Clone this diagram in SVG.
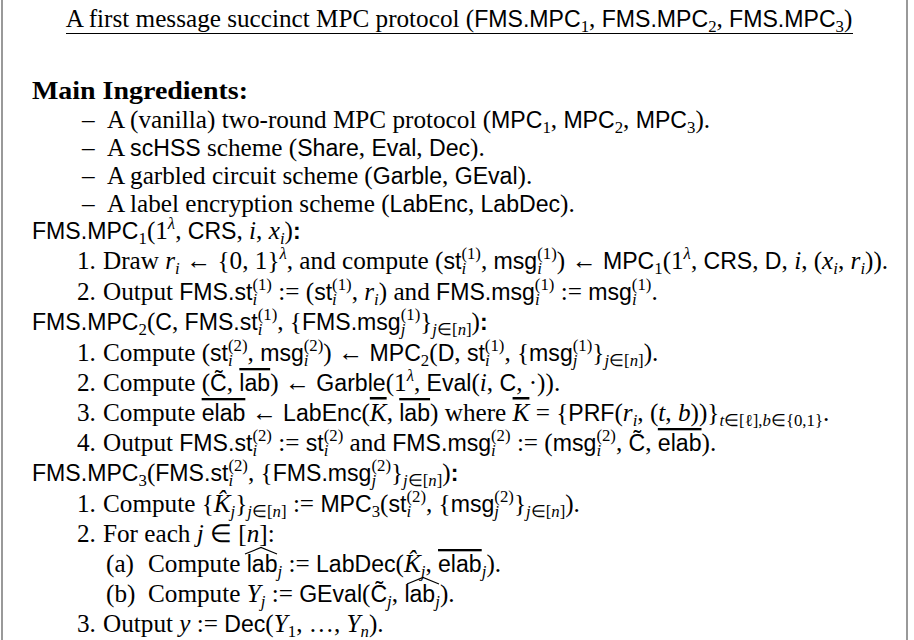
<svg xmlns="http://www.w3.org/2000/svg" width="914" height="640" viewBox="0 0 914 640">
<style>
.t{font-family:"Liberation Serif",serif;font-size:25.2px;fill:#000}
.s{font-family:"Liberation Sans",sans-serif;font-size:23.1px}
.i{font-style:italic}
.lo{font-size:16.8px;baseline-shift:-5.3px}
.hi{font-size:16.8px;baseline-shift:10.5px}
.ov{text-decoration:overline}
.b{font-weight:bold}
.hat{fill:none;stroke:#000;stroke-width:1.2}
</style>
<rect width="914" height="640" fill="#fff"/>
<g id="frame">
<line x1="2" y1="0" x2="2" y2="640" stroke="#777" stroke-width="1.5"/>
<line x1="907" y1="0" x2="907" y2="640" stroke="#777" stroke-width="1.5"/>
</g>
<g id="title">
<text class="t" x="459" y="27" text-anchor="middle">A first message succinct MPC protocol (<tspan class="s">FMS.MPC</tspan><tspan class="lo">1</tspan>, <tspan class="s">FMS.MPC</tspan><tspan class="lo">2</tspan>, <tspan class="s">FMS.MPC</tspan><tspan class="lo">3</tspan>)</text>
<line x1="66" y1="33.5" x2="853" y2="33.5" stroke="#000" stroke-width="1"/>
</g>
<g id="ingredients">
<text class="t b" x="32" y="99" textLength="216" lengthAdjust="spacingAndGlyphs">Main Ingredients:</text>
<text class="t" x="82" y="128">–</text>
<text class="t" x="107" y="128">A (vanilla) two-round MPC protocol (<tspan class="s">MPC</tspan><tspan class="lo">1</tspan>, <tspan class="s">MPC</tspan><tspan class="lo">2</tspan>, <tspan class="s">MPC</tspan><tspan class="lo">3</tspan>).</text>
<text class="t" x="82" y="156">–</text>
<text class="t" x="107" y="156">A <tspan class="s">scHSS</tspan> scheme (<tspan class="s">Share</tspan>, <tspan class="s">Eval</tspan>, <tspan class="s">Dec</tspan>).</text>
<text class="t" x="82" y="184">–</text>
<text class="t" x="107" y="184">A garbled circuit scheme (<tspan class="s">Garble</tspan>, <tspan class="s">GEval</tspan>).</text>
<text class="t" x="82" y="212">–</text>
<text class="t" x="107" y="212">A label encryption scheme (<tspan class="s">LabEnc</tspan>, <tspan class="s">LabDec</tspan>).</text>
</g>
<g id="round1">
<text class="t" x="32" y="239"><tspan class="s">FMS.MPC</tspan><tspan class="lo">1</tspan>(1<tspan class="hi i">λ</tspan>, <tspan class="s">CRS</tspan>, <tspan class="i">i</tspan>, <tspan class="i">x</tspan><tspan class="lo i">i</tspan>)<tspan class="s b">:</tspan></text>
<text class="t" x="77" y="269">1.</text>
<text class="t" x="103" y="269">Draw <tspan class="i">r</tspan><tspan class="lo i">i</tspan> ← {0, 1}<tspan class="hi i">λ</tspan>, and compute (<tspan class="s">st</tspan><tspan class="lo i">i</tspan><tspan class="hi" dx="-4.7">(1)</tspan>, <tspan class="s">msg</tspan><tspan class="lo i">i</tspan><tspan class="hi" dx="-4.7">(1)</tspan>) ← <tspan class="s">MPC</tspan><tspan class="lo">1</tspan>(1<tspan class="hi i">λ</tspan>, <tspan class="s">CRS</tspan>, <tspan class="s">D</tspan>, <tspan class="i">i</tspan>, (<tspan class="i">x</tspan><tspan class="lo i">i</tspan>, <tspan class="i">r</tspan><tspan class="lo i">i</tspan>)).</text>
<text class="t" x="77" y="300">2.</text>
<text class="t" x="103" y="300">Output <tspan class="s">FMS.st</tspan><tspan class="lo i">i</tspan><tspan class="hi" dx="-4.7">(1)</tspan> := (<tspan class="s">st</tspan><tspan class="lo i">i</tspan><tspan class="hi" dx="-4.7">(1)</tspan>, <tspan class="i">r</tspan><tspan class="lo i">i</tspan>) and <tspan class="s">FMS.msg</tspan><tspan class="lo i">i</tspan><tspan class="hi" dx="-4.7">(1)</tspan> := <tspan class="s">msg</tspan><tspan class="lo i">i</tspan><tspan class="hi" dx="-4.7">(1)</tspan>.</text>
</g>
<g id="round2">
<text class="t" x="32" y="330"><tspan class="s">FMS.MPC</tspan><tspan class="lo">2</tspan>(<tspan class="s">C</tspan>, <tspan class="s">FMS.st</tspan><tspan class="lo i">i</tspan><tspan class="hi" dx="-4.7">(1)</tspan>, {<tspan class="s">FMS.msg</tspan><tspan class="lo i">j</tspan><tspan class="hi" dx="-4.7">(1)</tspan>}<tspan class="lo"><tspan class="i">j</tspan>∈[<tspan class="i">n</tspan>]</tspan>)<tspan class="s b">:</tspan></text>
<text class="t" x="77" y="361">1.</text>
<text class="t" x="103" y="361">Compute (<tspan class="s">st</tspan><tspan class="lo i">i</tspan><tspan class="hi" dx="-4.7">(2)</tspan>, <tspan class="s">msg</tspan><tspan class="lo i">i</tspan><tspan class="hi" dx="-4.7">(2)</tspan>) ← <tspan class="s">MPC</tspan><tspan class="lo">2</tspan>(<tspan class="s">D</tspan>, <tspan class="s">st</tspan><tspan class="lo i">i</tspan><tspan class="hi" dx="-4.7">(1)</tspan>, {<tspan class="s">msg</tspan><tspan class="lo i">j</tspan><tspan class="hi" dx="-4.7">(1)</tspan>}<tspan class="lo"><tspan class="i">j</tspan>∈[<tspan class="i">n</tspan>]</tspan>).</text>
<text class="t" x="77" y="391">2.</text>
<text class="t" x="103" y="391">Compute (<tspan class="s">C̃</tspan>, <tspan class="s ov">lab</tspan>) ← <tspan class="s">Garble</tspan>(1<tspan class="hi i">λ</tspan>, <tspan class="s">Eval</tspan>(<tspan class="i">i</tspan>, <tspan class="s">C</tspan>, ·)).</text>
<text class="t" x="77" y="421">3.</text>
<text class="t" x="103" y="421">Compute <tspan class="s ov">elab</tspan> ← <tspan class="s">LabEnc</tspan>(<tspan class="i ov">K</tspan>, <tspan class="s ov">lab</tspan>) where <tspan class="i ov">K</tspan> = {<tspan class="s">PRF</tspan>(<tspan class="i">r</tspan><tspan class="lo i">i</tspan>, (<tspan class="i">t</tspan>, <tspan class="i">b</tspan>))}<tspan class="lo"><tspan class="i">t</tspan>∈[ℓ],<tspan class="i">b</tspan>∈{0,1}</tspan>.</text>
<text class="t" x="77" y="451">4.</text>
<text class="t" x="103" y="451">Output <tspan class="s">FMS.st</tspan><tspan class="lo i">i</tspan><tspan class="hi" dx="-4.7">(2)</tspan> := <tspan class="s">st</tspan><tspan class="lo i">i</tspan><tspan class="hi" dx="-4.7">(2)</tspan> and <tspan class="s">FMS.msg</tspan><tspan class="lo i">i</tspan><tspan class="hi" dx="-4.7">(2)</tspan> := (<tspan class="s">msg</tspan><tspan class="lo i">i</tspan><tspan class="hi" dx="-4.7">(2)</tspan>, <tspan class="s">C̃</tspan>, <tspan class="s ov">elab</tspan>).</text>
</g>
<g id="round3">
<text class="t" x="32" y="481"><tspan class="s">FMS.MPC</tspan><tspan class="lo">3</tspan>(<tspan class="s">FMS.st</tspan><tspan class="lo i">i</tspan><tspan class="hi" dx="-4.7">(2)</tspan>, {<tspan class="s">FMS.msg</tspan><tspan class="lo i">j</tspan><tspan class="hi" dx="-4.7">(2)</tspan>}<tspan class="lo"><tspan class="i">j</tspan>∈[<tspan class="i">n</tspan>]</tspan>)<tspan class="s b">:</tspan></text>
<text class="t" x="77" y="512">1.</text>
<text class="t" x="103" y="512">Compute {<tspan class="i">K̂</tspan><tspan class="lo i">j</tspan>}<tspan class="lo"><tspan class="i">j</tspan>∈[<tspan class="i">n</tspan>]</tspan> := <tspan class="s">MPC</tspan><tspan class="lo">3</tspan>(<tspan class="s">st</tspan><tspan class="lo i">i</tspan><tspan class="hi" dx="-4.7">(2)</tspan>, {<tspan class="s">msg</tspan><tspan class="lo i">j</tspan><tspan class="hi" dx="-4.7">(2)</tspan>}<tspan class="lo"><tspan class="i">j</tspan>∈[<tspan class="i">n</tspan>]</tspan>).</text>
<text class="t" x="77" y="542">2.</text>
<text class="t" x="103" y="542">For each <tspan class="i">j</tspan> ∈ [<tspan class="i">n</tspan>]:</text>
<text class="t" x="106" y="572">(a)</text>
<text class="t" x="148" y="572">Compute <tspan class="s">lab</tspan><tspan class="lo i">j</tspan> := <tspan class="s">LabDec</tspan>(<tspan class="i">K̂</tspan><tspan class="lo i">j</tspan>, <tspan class="s ov">elab</tspan><tspan class="lo i">j</tspan>).</text>
<text class="t" x="106" y="602">(b)</text>
<text class="t" x="148" y="602">Compute <tspan class="i">Y</tspan><tspan class="lo i">j</tspan> := <tspan class="s">GEval</tspan>(<tspan class="s">C̃</tspan><tspan class="lo i">j</tspan>, <tspan class="s">lab</tspan><tspan class="lo i">j</tspan>).</text>
<text class="t" x="77" y="632">3.</text>
<text class="t" x="103" y="632">Output <tspan class="i">y</tspan> := <tspan class="s">Dec</tspan>(<tspan class="i">Y</tspan><tspan class="lo">1</tspan>, …, <tspan class="i">Y</tspan><tspan class="lo i">n</tspan>).</text>
<path class="hat" d="M245 554 L261 547.5 L277 554"/>
<path class="hat" d="M407 584 L423 577.5 L439 584"/>
</g>
</svg>
